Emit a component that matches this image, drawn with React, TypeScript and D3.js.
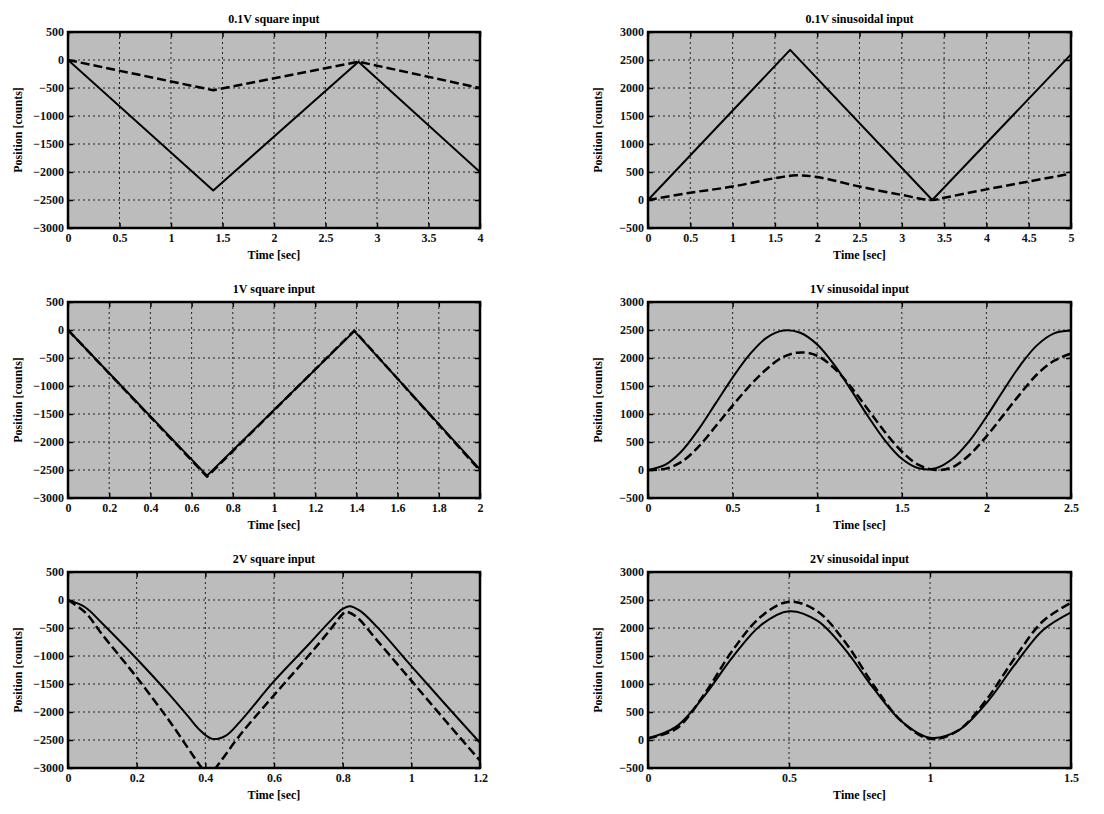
import { useEffect, useRef } from "react";
import * as d3 from "d3";

// 0.1V square input
const sq01Time = [0, 1.41, 2.82, 4];
const sq01Solid = [0, -2330, -30, -2000];
const sq01Dashed = [0, -540, -30, -500];

// 0.1V sinusoidal input
const sin01SolidTime = [0, 1.68, 3.36, 5];
const sin01Solid = [0, 2680, 0, 2600];
const sin01DashedTime = [0, 0.5, 1, 1.5, 1.75, 2, 2.5, 3, 3.36, 3.5, 4, 4.5, 5];
const sin01Dashed = [0, 130, 240, 390, 440, 410, 240, 90, 0, 40, 190, 330, 470];

// 1V square input
const sq1Time = [0, 0.675, 1.39, 2];
const sq1Solid = [0, -2600, -20, -2490];
const sq1Dashed = [0, -2620, -10, -2510];

// 1V sinusoidal input
const sin1Time = [0, 0.1, 0.2, 0.3, 0.4, 0.5, 0.6, 0.7, 0.8, 0.9, 1.0, 1.1, 1.2, 1.3, 1.4, 1.5, 1.6, 1.7, 1.8, 1.9, 2.0, 2.1, 2.2, 2.3, 2.4, 2.5];
const sin1Solid = [0, 90, 340, 730, 1190, 1650, 2060, 2360, 2490, 2450, 2240, 1880, 1430, 960, 530, 200, 30, 30, 200, 520, 950, 1420, 1870, 2230, 2440, 2490];
const sin1Dashed = [0, 20, 150, 420, 780, 1150, 1500, 1800, 2020, 2100, 2040, 1820, 1480, 1080, 680, 330, 90, 0, 50, 270, 600, 980, 1360, 1710, 1950, 2080];

// 2V square input
const sq2SolidTime = [0, 0.05, 0.1, 0.2, 0.3, 0.35, 0.38, 0.42, 0.46, 0.5, 0.6, 0.7, 0.76, 0.8, 0.82, 0.85, 0.9, 1.0, 1.1, 1.2];
const sq2Solid = [0, -130, -420, -1050, -1720, -2080, -2300, -2480, -2420, -2180, -1450, -800, -400, -160, -110, -190, -480, -1180, -1870, -2550];
const sq2DashedTime = [0, 0.05, 0.1, 0.2, 0.3, 0.39, 0.41, 0.43, 0.5, 0.6, 0.7, 0.76, 0.8, 0.81, 0.84, 0.9, 1.0, 1.1, 1.2];
const sq2Dashed = [0, -220, -620, -1380, -2200, -3000, -3130, -3000, -2420, -1700, -1000, -560, -250, -210, -300, -720, -1440, -2160, -2870];

// 2V sinusoidal input
const sin2Time = [0, 0.1, 0.2, 0.3, 0.4, 0.5, 0.6, 0.7, 0.8, 0.9, 1.0, 1.1, 1.2, 1.3, 1.4, 1.5];
const sin2Solid = [30, 240, 790, 1480, 2050, 2300, 2130, 1610, 920, 330, 40, 170, 660, 1340, 1960, 2280];
const sin2Dashed = [30, 200, 820, 1600, 2200, 2470, 2300, 1740, 980, 330, 20, 170, 720, 1460, 2120, 2450];

// tick labels
const squareYTicks = [500, 0, -500, -1000, -1500, -2000, -2500, -3000];
const sineYTicks = [3000, 2500, 2000, 1500, 1000, 500, 0, -500];
const xTicksSq01 = [0, 0.5, 1, 1.5, 2, 2.5, 3, 3.5, 4];
const xTicksSin01 = [0, 0.5, 1, 1.5, 2, 2.5, 3, 3.5, 4, 4.5, 5];
const xTicksSq1 = [0, 0.2, 0.4, 0.6, 0.8, 1, 1.2, 1.4, 1.6, 1.8, 2];
const xTicksSin1 = [0, 0.5, 1, 1.5, 2, 2.5];
const xTicksSq2 = [0, 0.2, 0.4, 0.6, 0.8, 1, 1.2];
const xTicksSin2 = [0, 0.5, 1, 1.5];

const panels = [
  { title: "0.1V square input", x: 68, y: 32, w: 412, xTicks: xTicksSq01, yTicks: squareYTicks,
    solid: [sq01Time, sq01Solid], dashed: [sq01Time, sq01Dashed], solidCurved: false, dashedCurved: false },
  { title: "0.1V sinusoidal input", x: 648, y: 32, w: 423, xTicks: xTicksSin01, yTicks: sineYTicks,
    solid: [sin01SolidTime, sin01Solid], dashed: [sin01DashedTime, sin01Dashed], solidCurved: false, dashedCurved: true },
  { title: "1V square input", x: 68, y: 302, w: 412, xTicks: xTicksSq1, yTicks: squareYTicks,
    solid: [sq1Time, sq1Solid], dashed: [sq1Time, sq1Dashed], solidCurved: false, dashedCurved: false },
  { title: "1V sinusoidal input", x: 648, y: 302, w: 423, xTicks: xTicksSin1, yTicks: sineYTicks,
    solid: [sin1Time, sin1Solid], dashed: [sin1Time, sin1Dashed], solidCurved: true, dashedCurved: true },
  { title: "2V square input", x: 68, y: 572, w: 412, xTicks: xTicksSq2, yTicks: squareYTicks,
    solid: [sq2SolidTime, sq2Solid], dashed: [sq2DashedTime, sq2Dashed], solidCurved: true, dashedCurved: true },
  { title: "2V sinusoidal input", x: 648, y: 572, w: 423, xTicks: xTicksSin2, yTicks: sineYTicks,
    solid: [sin2Time, sin2Solid], dashed: [sin2Time, sin2Dashed], solidCurved: true, dashedCurved: true },
];

const H = 196;
const FONT = "'Liberation Serif', 'DejaVu Serif', serif";

const App = () => {
  const chartRef = useRef<SVGSVGElement>(null);

  useEffect(() => {
    const svg = d3.select(chartRef.current);
    svg.selectAll("*").remove();

    panels.forEach((p, i) => {
      const g = svg.append("g").attr("transform", `translate(${p.x},${p.y})`);
      const xs = d3.scaleLinear().domain(d3.extent(p.xTicks) as [number, number]).range([0, p.w]);
      const ys = d3.scaleLinear().domain(d3.extent(p.yTicks) as [number, number]).range([H, 0]);

      // background (scanned halftone grey)
      g.append("rect").attr("width", p.w).attr("height", H).attr("fill", "#bcbcbc");

      // grid
      g.selectAll(".vg")
        .data(p.xTicks.slice(1, -1))
        .join("line")
        .attr("x1", (d) => xs(d)).attr("x2", (d) => xs(d))
        .attr("y1", 0).attr("y2", H)
        .attr("stroke", "#222").attr("stroke-width", 1).attr("stroke-dasharray", "2,3");
      g.selectAll(".hg")
        .data(p.yTicks.slice(1, -1))
        .join("line")
        .attr("y1", (d) => ys(d)).attr("y2", (d) => ys(d))
        .attr("x1", 0).attr("x2", p.w)
        .attr("stroke", "#222").attr("stroke-width", 1).attr("stroke-dasharray", "2,3");

      // clip the curves to the plot box
      const clipId = `clip-${i}`;
      svg.append("clipPath").attr("id", clipId)
        .append("rect").attr("x", p.x).attr("y", p.y).attr("width", p.w).attr("height", H);
      const lines = svg.append("g").attr("clip-path", `url(#${clipId})`)
        .append("g").attr("transform", `translate(${p.x},${p.y})`);

      const draw = (series: number[][], curved: boolean, dash: string | null, width: number) => {
        const pts = series[0].map((t, j) => [t, series[1][j]] as [number, number]);
        const line = d3.line<[number, number]>()
          .x((d) => xs(d[0]))
          .y((d) => ys(d[1]))
          .curve(curved ? d3.curveCatmullRom.alpha(0.5) : d3.curveLinear);
        const path = lines.append("path")
          .datum(pts)
          .attr("fill", "none")
          .attr("stroke", "#000")
          .attr("stroke-width", width)
          .attr("stroke-linejoin", "round")
          .attr("d", line);
        if (dash) path.attr("stroke-dasharray", dash);
      };

      draw(p.solid, p.solidCurved, null, 2);
      draw(p.dashed, p.dashedCurved, "9,4", 2.5);

      // axes, ticks pointing inward
      const left = g.append("g").call(
        d3.axisLeft(ys).tickValues(p.yTicks).tickSize(-5).tickPadding(4).tickFormat(d3.format("d"))
      );
      const bottom = g.append("g").attr("transform", `translate(0,${H})`).call(
        d3.axisBottom(xs).tickValues(p.xTicks).tickSize(-5).tickPadding(5).tickFormat((d) => `${d}`)
      );
      const right = g.append("g").attr("transform", `translate(${p.w},0)`).call(
        d3.axisRight(ys).tickValues(p.yTicks).tickSize(-5).tickFormat(() => "")
      );
      const top = g.append("g").call(
        d3.axisTop(xs).tickValues(p.xTicks).tickSize(-5).tickFormat(() => "")
      );
      [left, bottom, right, top].forEach((a) => {
        a.select(".domain").remove();
        a.selectAll("line").attr("stroke", "#000").attr("stroke-width", 1.5);
        a.selectAll("text")
          .attr("font-family", FONT)
          .attr("font-size", 12)
          .attr("font-weight", "bold")
          .attr("fill", "#111");
      });

      // frame
      g.append("rect").attr("width", p.w).attr("height", H)
        .attr("fill", "none").attr("stroke", "#000").attr("stroke-width", 2.5);

      // title and axis labels
      g.append("text")
        .attr("x", p.w / 2).attr("y", -9)
        .attr("text-anchor", "middle")
        .attr("font-family", FONT).attr("font-size", 12).attr("font-weight", "bold")
        .text(p.title);
      g.append("text")
        .attr("x", p.w / 2).attr("y", H + 31)
        .attr("text-anchor", "middle")
        .attr("font-family", FONT).attr("font-size", 12).attr("font-weight", "bold")
        .text("Time [sec]");
      g.append("text")
        .attr("transform", `translate(${-46},${H / 2}) rotate(-90)`)
        .attr("text-anchor", "middle")
        .attr("font-family", FONT).attr("font-size", 12).attr("font-weight", "bold")
        .text("Position [counts]");
    });
  }, []);

  return (
    <svg
      ref={chartRef}
      width={1104}
      height={814}
      style={{ position: "absolute", left: 0, top: 0, background: "#fff" }}
    ></svg>
  );
};

export default App;
